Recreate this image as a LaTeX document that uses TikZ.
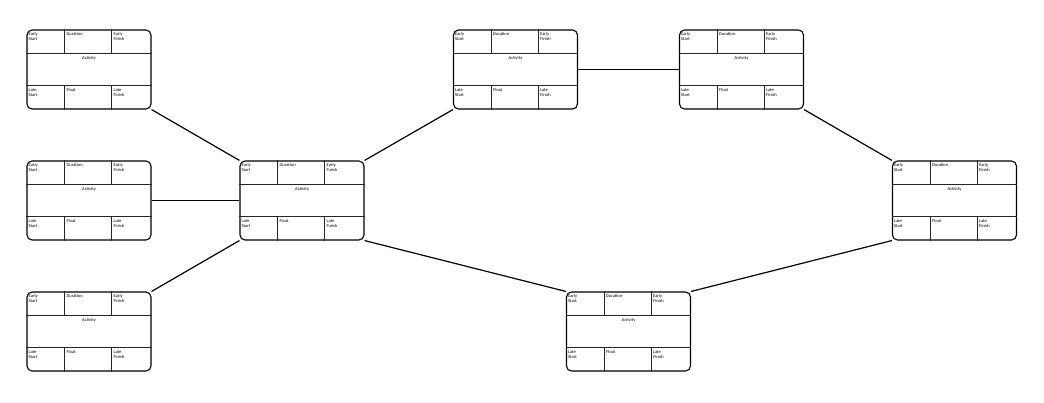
\documentclass[tikz,border=0pt]{standalone}
\usepackage{fontspec}
\setsansfont{Carlito}
\usepackage{tikz}
\usetikzlibrary{calc, positioning}

\begin{document}
\begin{tikzpicture}[x=1pt, y=-1pt,
		actbox/.style={draw, rounded corners=5pt, line width=1.1pt, minimum width=124pt, minimum height=79pt, inner sep=0pt},
		divider/.style={line width=0.7pt, black!85},
		cell/.style={anchor=north west, inner sep=0pt, align=left, font=\sffamily\fontsize{4.5}{5}\selectfont},
		link/.style={line width=1.2pt}]
		\useasboundingbox (0,0) rectangle (1044,402);
		\foreach \nm/\x/\y in {act1/89/69.5, act2/89/200.5, act3/89/331.5, actc/302/200.5, acttm/515.5/69.5, acttr/741.5/69.5, actr/954.5/200.5, actbm/628.5/331.5}{
			\node(\nm) [actbox] at (\x,\y) {};
			\draw[divider] ($(\nm.north west)+(0,24)$) -- ($(\nm.north east)+(0,24)$);
			\draw[divider] ($(\nm.north west)+(0,56)$) -- ($(\nm.north east)+(0,56)$);
			\draw[divider] ($(\nm.north west)+(38,0)$) -- ($(\nm.north west)+(38,24)$);
			\draw[divider] ($(\nm.north west)+(85,0)$) -- ($(\nm.north west)+(85,24)$);
			\draw[divider] ($(\nm.north west)+(38,56)$) -- ($(\nm.south west)+(38,0)$);
			\draw[divider] ($(\nm.north west)+(85,56)$) -- ($(\nm.south west)+(85,0)$);
			\node(\nm-es) [cell] at ($(\nm.north west)+(2,3)$) {Early\\Start};
			\node(\nm-du) [cell] at ($(\nm.north west)+(40,3)$) {Duration};
			\node(\nm-ef) [cell] at ($(\nm.north west)+(87,3)$) {Early\\Finish};
			\node(\nm-ac) [cell, anchor=north] at ($(\nm.north)+(0,27)$) {Activity};
			\node(\nm-ls) [cell] at ($(\nm.north west)+(2,59)$) {Late\\Start};
			\node(\nm-fl) [cell] at ($(\nm.north west)+(40,59)$) {Float};
			\node(\nm-lf) [cell] at ($(\nm.north west)+(87,59)$) {Late\\Finish};
		}
		
		\draw[link] (act1.south east) -- (actc.north west);
		\draw[link] (act2.east) -- (actc.west);
		\draw[link] (act3.north east) -- (actc.south west);
		\draw[link] (actc.north east) -- (acttm.south west);
		\draw[link] (acttm.east) -- (acttr.west);
		\draw[link] (acttr.south east) -- (actr.north west);
		\draw[link] (actc.south east) -- (actbm.north west);
		\draw[link] (actbm.north east) -- (actr.south west);
\end{tikzpicture}
\end{document}
